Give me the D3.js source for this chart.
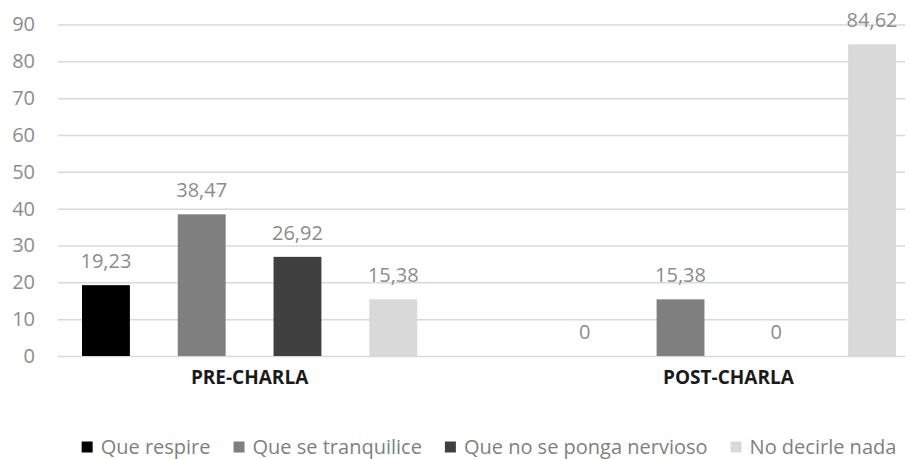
<!DOCTYPE html>
<html>
<head>
<meta charset="utf-8">
<script src="https://cdn.jsdelivr.net/npm/d3@7"></script>
<style>
  html, body { margin: 0; padding: 0; background: #fff; }
  svg { display: block; font-family: "Open Sans", sans-serif; }
</style>
</head>
<body>
<svg id="chart"></svg>
<script>
// Data
const groups = ["PRE-CHARLA", "POST-CHARLA"];
const series = ["Que respire", "Que se tranquilice", "Que no se ponga nervioso", "No decirle nada"];
const preValues = [19.23, 38.47, 26.92, 15.38];
const postValues = [0, 15.38, 0, 84.62];
const yTicks = [0, 10, 20, 30, 40, 50, 60, 70, 80, 90];
const colors = ["#000000", "#7f7f7f", "#404040", "#d9d9d9"];

const width = 909;
const height = 459;

const data = groups.map((g, gi) => ({
    group: g,
    values: series.map((s, si) => ({key: s, value: (gi === 0 ? preValues : postValues)[si]}))
}));

const svg = d3.select("#chart")
    .attr("width", width)
    .attr("height", height)
    .attr("viewBox", [0, 0, width, height]);

// Scales
const y = d3.scaleLinear().domain([0, 90]).range([356, 24.5]);
const x0 = d3.scaleBand().domain(groups).range([82, 896]).paddingInner(0.3);
const x1 = d3.scaleBand().domain(series).range([0, x0.bandwidth()]).paddingInner(0.5);
const color = d3.scaleOrdinal(series, colors);

const fmt = v => v === 0 ? "0" : d3.format(".2f")(v).replace(".", ",");

// Grid + y labels
const yAxis = d3.axisLeft(y)
    .tickValues(yTicks)
    .tickSize(-(905 - 58))
    .tickPadding(23);

svg.append("g")
    .attr("transform", "translate(58,0)")
    .call(yAxis)
    .call(g => g.select(".domain").remove())
    .call(g => g.selectAll(".tick line")
        .attr("stroke", "#d9d9d9")
        .attr("stroke-width", 1.5))
    .call(g => g.selectAll(".tick text")
        .attr("fill", "#8c8c8c")
        .attr("font-size", 20)
        .attr("font-family", "Open Sans, sans-serif"));

// Bars
const gGroup = svg.append("g")
    .selectAll("g")
    .data(data)
    .join("g")
    .attr("transform", d => `translate(${x0(d.group)},0)`);

gGroup.selectAll("rect")
    .data(d => d.values)
    .join("rect")
    .attr("x", d => x1(d.key))
    .attr("y", d => y(d.value))
    .attr("width", x1.bandwidth())
    .attr("height", d => y(0) - y(d.value))
    .attr("fill", d => color(d.key));

// Data labels
gGroup.selectAll("text")
    .data(d => d.values)
    .join("text")
    .attr("x", d => x1(d.key) + x1.bandwidth() / 2)
    .attr("y", d => y(d.value) - 17)
    .attr("text-anchor", "middle")
    .attr("fill", "#8c8c8c")
    .attr("font-size", 20)
    .text(d => fmt(d.value));

// Category labels
svg.append("g")
    .selectAll("text")
    .data(groups)
    .join("text")
    .attr("x", d => x0(d) + x0.bandwidth() / 2)
    .attr("y", 384)
    .attr("text-anchor", "middle")
    .attr("fill", "#1a1a1a")
    .attr("font-size", 19)
    .attr("font-weight", "bold")
    .text(d => d);

// Legend
const legend = svg.append("g").attr("transform", "translate(0,447)");
const items = legend.selectAll("g")
    .data(series)
    .join("g");

items.append("rect")
    .attr("y", -5.5)
    .attr("width", 11)
    .attr("height", 11)
    .attr("fill", d => color(d));

items.append("text")
    .attr("x", 19)
    .attr("dy", "0.35em")
    .attr("fill", "#7f7f7f")
    .attr("font-size", 20)
    .text(d => d);

let cx = 0;
const offsets = [];
items.each(function () {
    offsets.push(cx);
    cx += 19 + this.querySelector("text").getComputedTextLength() + 23;
});
const total = cx - 23;
const start = 489 - total / 2;
items.attr("transform", (d, i) => `translate(${start + offsets[i]},0)`);
</script>
</body>
</html>
